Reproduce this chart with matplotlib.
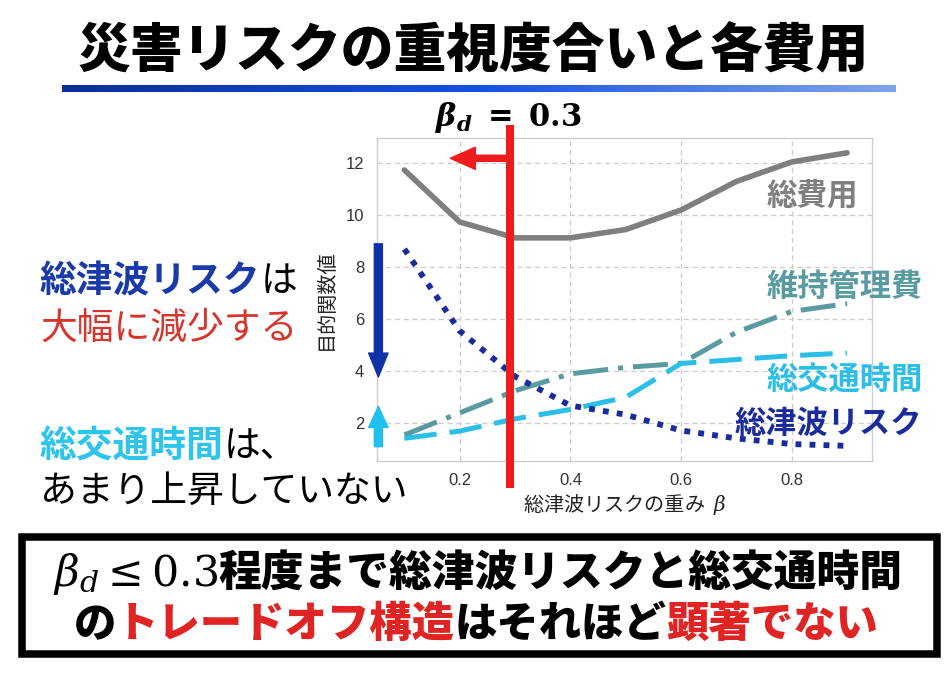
import matplotlib
matplotlib.use("Agg")
import matplotlib.pyplot as plt
import numpy as np
from matplotlib.patches import Rectangle, ArrowStyle

plt.rcParams['font.family'] = ['Noto Sans CJK JP', 'DejaVu Sans']
plt.rcParams['mathtext.fontset'] = 'custom'
plt.rcParams['mathtext.rm'] = 'DejaVu Serif'
plt.rcParams['mathtext.it'] = 'DejaVu Serif:italic'
plt.rcParams['mathtext.bf'] = 'DejaVu Serif:bold'
plt.rcParams['mathtext.sf'] = 'DejaVu Serif:italic:bold'

# データ
beta = [0.1, 0.2, 0.3, 0.4, 0.5, 0.6, 0.7, 0.8, 0.9]
total_cost = [11.74, 9.74, 9.13, 9.13, 9.45, 10.2, 11.3, 12.05, 12.4]
maintenance = [1.55, 2.4, 3.25, 3.9, 4.15, 4.3, 5.5, 6.3, 6.6]
travel_time = [1.42, 1.7, 2.17, 2.53, 3.0, 4.3, 4.45, 4.6, 4.7]
tsunami_risk = [8.7, 5.55, 3.8, 2.68, 2.33, 1.72, 1.42, 1.2, 1.13]
beta_d_pos = 0.29
x_ticks = [0.2, 0.4, 0.6, 0.8]
y_ticks = [2, 4, 6, 8, 10, 12]

c_gray = '#7f7f7f'
c_teal = '#5a9ba2'
c_cyan = '#2bbfe8'
c_navy = '#1a2c9c'
c_red = '#ee1c1c'
c_red_txt = '#e02424'

W, H = 951, 679
fig = plt.figure(figsize=(W / 100, H / 100), dpi=100)


def px(x, y):
    return x / W, 1 - y / H


# グラフ
ax = fig.add_axes([376.7 / W, 1 - 460.7 / H, (872 - 376.7) / W, (460.7 - 138) / H])
ax.plot(beta, total_cost, color=c_gray, lw=4.0, solid_capstyle='round')
ax.plot(beta, maintenance, color=c_teal, lw=3.6, linestyle=(0, (7, 2, 1, 2)))
ax.plot(beta, travel_time, color=c_cyan, lw=3.6, linestyle=(0, (6.5, 2.6)))
ax.plot(beta, tsunami_risk, color=c_navy, lw=4.2, linestyle=(0, (1, 1.4)))

ax.set_xlim(0.05, 0.945)
ax.set_ylim(0.56, 12.97)
ax.set_xticks(x_ticks)
ax.set_yticks(y_ticks)
ax.set_xticklabels([f'{v:.1f}' for v in x_ticks], family='Liberation Sans', fontsize=12, color='#333333')
ax.set_yticklabels([str(v) for v in y_ticks], family='Liberation Sans', fontsize=12, color='#333333')
ax.tick_params(length=0, pad=9)
ax.grid(True, color='#cccccc', linestyle=(0, (4, 3)), linewidth=0.9)
for s in ax.spines.values():
    s.set_color('#cfcfcf')
    s.set_linewidth(1.0)
ax.set_ylabel('目的関数値', fontsize=14.5, color='#222222', labelpad=6)
ax.set_xlabel('総津波リスクの重み  $\\beta$', fontsize=14.5, color='#222222', labelpad=3)

# β_d の赤線と矢印
ax.plot([beta_d_pos, beta_d_pos], [-0.33, 13.3], color=c_red, lw=5.8, clip_on=False, zorder=5)
ax.annotate('', xy=(0.183, 12.19), xytext=(beta_d_pos, 12.19),
            arrowprops=dict(arrowstyle=ArrowStyle('simple', head_length=0.9, head_width=0.8, tail_width=0.22),
                            color=c_red, shrinkA=0, shrinkB=0, mutation_scale=20), zorder=5)
ax.annotate('', xy=(0.053, 3.78), xytext=(0.053, 8.9),
            arrowprops=dict(arrowstyle=ArrowStyle('simple', head_length=0.86, head_width=0.7, tail_width=0.29),
                            color='#1030a8', shrinkA=0, shrinkB=0, mutation_scale=20), zorder=6)
ax.annotate('', xy=(0.053, 2.65), xytext=(0.053, 1.1),
            arrowprops=dict(arrowstyle=ArrowStyle('simple', head_length=0.76, head_width=0.7, tail_width=0.29),
                            color='#22c0ef', shrinkA=0, shrinkB=0, mutation_scale=20), zorder=6)

# 系列ラベル
fig.text(*px(767, 204), '総費用', color=c_gray, fontsize=22, fontweight='bold')
fig.text(*px(767, 295.5), '維持管理費', color=c_teal, fontsize=22.5, fontweight='bold')
fig.text(*px(767, 388.5), '総交通時間', color=c_cyan, fontsize=22.5, fontweight='bold')
fig.text(*px(735, 433), '総津波リスク', color=c_navy, fontsize=22.5, fontweight='bold')

# タイトルと下線
fig.text(*px(473, 67), '災害リスクの重視度合いと各費用', fontsize=38, fontweight='black',
         ha='center', color='black')
gax = fig.add_axes([62 / W, 1 - 92 / H, (896 - 62) / W, 7 / H])
grad = np.linspace(0, 1, 256).reshape(1, -1)
cmap = matplotlib.colors.LinearSegmentedColormap.from_list('g', ['#0a2f96', '#1450e4', '#7fa5ea'])
gax.imshow(grad, aspect='auto', cmap=cmap)
gax.axis('off')

fig.text(*px(508, 126), r'$\mathsf{\beta_d}\ \mathbf{=\ 0.3}$', fontsize=22, ha='center', va='baseline')

fig.canvas.draw()
rend = fig.canvas.get_renderer()


def runs(x, y, pieces, size, center=False):
    texts = []
    for s, c, w in pieces:
        t = fig.text(0, 1 - y / H, s, color=c, fontsize=size, fontweight=w, va='baseline')
        texts.append(t)
    widths = [t.get_window_extent(rend).width for t in texts]
    x0 = x - sum(widths) / 2 if center else x
    for t, wd in zip(texts, widths):
        t.set_x(x0 / W)
        x0 += wd


# 左側の説明
runs(40, 292, [('総津波リスク', '#1a3aa8', 'bold'), ('は', 'black', 'normal')], 26.5)
runs(40, 339, [('大幅に減少する', '#d9342b', 'normal')], 26.5)
runs(40, 457, [('総交通時間', '#2ec4ec', 'bold'), ('は、', 'black', 'normal')], 26.5)
runs(40, 502, [('あまり上昇していない', 'black', 'normal')], 26.5)

# 下の枠
fig.patches.append(Rectangle((21.5 / W, 1 - 654 / H), (936.5 - 21.5) / W, (654 - 536.5) / H,
                             transform=fig.transFigure, fill=False, edgecolor='black', linewidth=5.4))
runs(478, 586, [(r'$\beta_d \leq 0.3$', 'black', 'normal'),
                ('程度まで総津波リスクと総交通時間', 'black', 'black')], 30.8, center=True)
runs(476, 637, [('の', 'black', 'black'), ('トレードオフ構造', c_red_txt, 'black'),
                ('はそれほど', 'black', 'black'), ('顕著でない', c_red_txt, 'black')], 30.5, center=True)

fig.savefig('out.png', dpi=100)
